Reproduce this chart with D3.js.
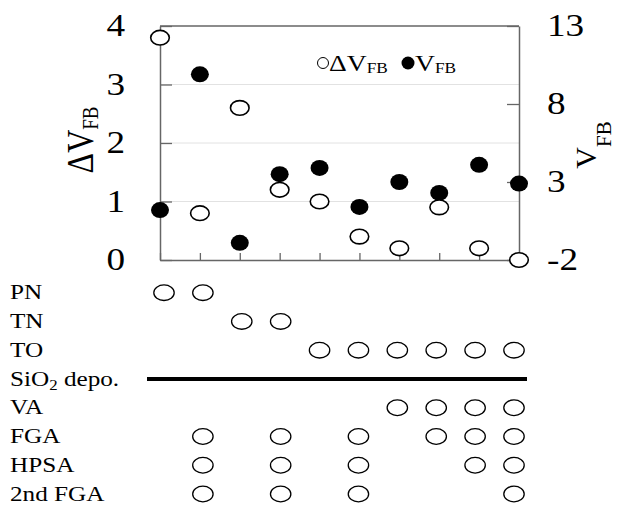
<!DOCTYPE html>
<html>
<head>
<meta charset="utf-8">
<script src="https://cdn.jsdelivr.net/npm/d3@7"></script>
<style>
body{margin:0;background:#fff;}
text{font-family:"Liberation Serif","Times New Roman",serif;fill:#000;}
</style>
</head>
<body>
<svg width="619" height="507"></svg>
<script>
// samples along the x axis
var samples = [1,2,3,4,5,6,7,8,9,10];
// open circles, left axis
var dVfb = [3.8, 0.8, 2.6, 1.2, 1.0, 0.4, 0.2, 0.9, 0.2, 0.0];
// filled circles, right axis
var vfb = [1.2, 9.9, -0.9, 3.5, 3.9, 1.4, 3.0, 2.3, 4.1, 2.9];
var leftTicks = [0,1,2,3,4];
var rightTicks = [-2,3,8,13];
// process table below the chart
var steps = ["PN","TN","TO","SiO2 depo.","VA","FGA","HPSA","2nd FGA"];
var stepSamples = [[1,2],[3,4],[5,6,7,8,9,10],"line",[7,8,9,10],[2,4,6,8,9,10],[2,4,6,9,10],[2,4,6,10]];

var sx = 1.2;   // the source image is a bit wide
var frame = "#666";
var serif = "'Liberation Serif','Times New Roman',serif";
var svg = d3.select("svg");

var x = d3.scalePoint().domain(samples).range([160,519]);
var yL = d3.scaleLinear().domain([0,4]).range([260,26]);
var yR = d3.scaleLinear().domain([-2,13]).range([260,26]);

function stretch(sel,k){
  sel.attr("transform",function(){
    var t=d3.select(this);
    var px=+t.attr("x")||0, py=+t.attr("y")||0;
    return "translate("+px+","+py+") scale("+k+",1) translate("+(-px)+","+(-py)+")";
  });
}

// gridlines
svg.append("g").selectAll("line")
   .data(leftTicks.slice(1,4))
   .enter().append("line")
   .attr("x1",x(1)).attr("x2",x(10))
   .attr("y1",function(d){return yL(d);})
   .attr("y2",function(d){return yL(d);})
   .attr("stroke","#e2e2e2").attr("stroke-width",1);

// top frame
svg.append("line")
   .attr("x1",x(1)).attr("x2",x(10))
   .attr("y1",yL(4)).attr("y2",yL(4))
   .attr("stroke",frame).attr("stroke-width",1.5);

var fmt = function(d){return String(d);};

var xAxis = svg.append("g")
   .attr("transform","translate(0,"+yL(0)+")")
   .call(d3.axisBottom(x).tickValues(samples).tickSizeInner(-7).tickSizeOuter(0).tickFormat(""));

var leftAxis = svg.append("g")
   .attr("transform","translate("+x(1)+",0)")
   .call(d3.axisLeft(yL).tickValues(leftTicks).tickFormat(fmt).tickSizeInner(-12).tickSizeOuter(0).tickPadding(35));

var rightAxis = svg.append("g")
   .attr("transform","translate("+x(10)+",0)")
   .call(d3.axisRight(yR).tickValues(rightTicks).tickFormat(fmt).tickSizeInner(-12).tickSizeOuter(0).tickPadding(28));

[xAxis,leftAxis,rightAxis].forEach(function(g){
  g.attr("color",frame).attr("font-family",serif).attr("font-size",31);
  g.select(".domain").attr("stroke-width",1.5);
  g.selectAll(".tick line").attr("stroke-width",1.3);
  g.selectAll("text").style("fill","#000");
  stretch(g.selectAll("text"),sx);
});

// axis titles
var lt = svg.append("text")
   .attr("transform","translate(93,140) scale("+sx+",1) rotate(-90)")
   .attr("text-anchor","middle")
   .style("font-size","32px");
lt.append("tspan").text("\u0394V");
lt.append("tspan").attr("dy",4).style("font-size","19px").text("FB");

var rt = svg.append("text")
   .attr("transform","translate(596,145) rotate(-90)")
   .attr("text-anchor","middle")
   .style("font-size","30px");
rt.append("tspan").text("V");
rt.append("tspan").attr("dy",15).style("font-size","21px").text("FB");

// points
svg.append("g").selectAll("ellipse")
   .data(samples)
   .enter().append("ellipse")
   .attr("cx",function(d){return x(d);})
   .attr("cy",function(d,i){return yR(vfb[i]);})
   .attr("rx",9).attr("ry",8)
   .attr("fill","#000");

svg.append("g").selectAll("ellipse")
   .data(samples)
   .enter().append("ellipse")
   .attr("cx",function(d){return x(d);})
   .attr("cy",function(d,i){return yL(dVfb[i]);})
   .attr("rx",9.3).attr("ry",7.3)
   .attr("fill","#fff").attr("stroke","#000").attr("stroke-width",1.6);

// legend
svg.append("ellipse").attr("cx",323).attr("cy",63).attr("rx",5.5).attr("ry",5.5)
   .attr("fill","#fff").attr("stroke","#000").attr("stroke-width",1);
var l1 = svg.append("text").attr("x",329).attr("y",71).style("font-size","24px");
l1.append("tspan").text("\u0394V");
l1.append("tspan").attr("dy",2).style("font-size","15px").text("FB");
stretch(l1,1.15);
svg.append("ellipse").attr("cx",408).attr("cy",63).attr("rx",6.5).attr("ry",6.5).attr("fill","#000");
var l2 = svg.append("text").attr("x",415).attr("y",71).style("font-size","24px");
l2.append("tspan").text("V");
l2.append("tspan").attr("dy",2).style("font-size","15px").text("FB");
stretch(l2,1.15);

// process table
var tx = d3.scalePoint().domain(samples).range([164,514]);
var ty = d3.scalePoint().domain(steps).range([292.7,494]);

var rows = svg.append("g").selectAll("g")
   .data(steps)
   .enter().append("g");

rows.append("text")
   .attr("x",10)
   .attr("y",function(d){return ty(d)+6.7;})
   .style("font-size","21px")
   .each(function(d){
     var t=d3.select(this);
     if(d=="SiO2 depo."){
       t.append("tspan").text("SiO");
       t.append("tspan").attr("dy",4).style("font-size","14px").text("2");
       t.append("tspan").attr("dy",-4).text(" depo.");
     } else t.text(d);
   });
stretch(rows.selectAll("text"),sx);

rows.each(function(d,i){
  var g=d3.select(this);
  if(stepSamples[i]=="line"){
    g.append("line")
     .attr("x1",147).attr("x2",527)
     .attr("y1",ty(d)).attr("y2",ty(d))
     .attr("stroke","#000").attr("stroke-width",4);
  } else {
    g.selectAll("ellipse")
     .data(stepSamples[i])
     .enter().append("ellipse")
     .attr("cx",function(s){return tx(s);})
     .attr("cy",ty(d))
     .attr("rx",10.2).attr("ry",7.8)
     .attr("fill","none").attr("stroke","#000").attr("stroke-width",1.3);
  }
});
</script>
</body>
</html>
